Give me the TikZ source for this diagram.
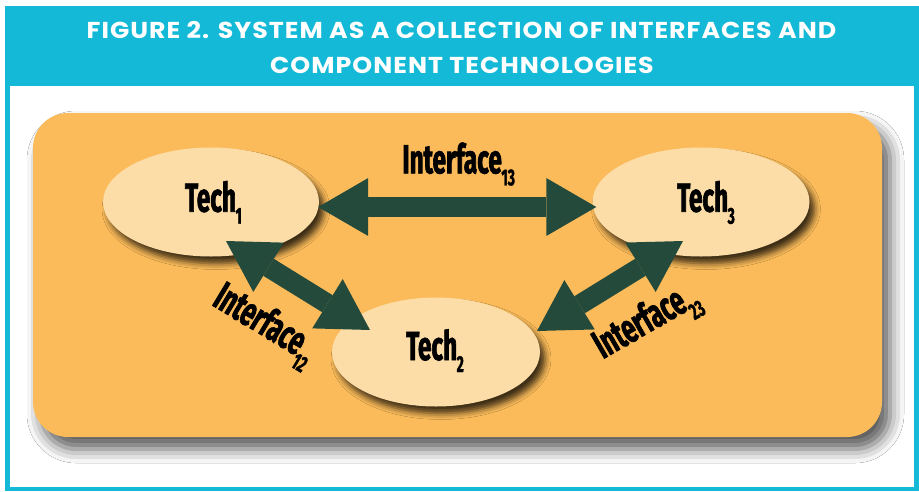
\documentclass[tikz,border=0pt]{standalone}
\usepackage{fontspec}
\setmainfont{Fira Sans}
\newfontfamily\titlefont{Poppins}[FakeStretch=1.1, LetterSpace=4.4]
\newfontfamily\condfont{Fira Sans}[FakeStretch=0.6, FakeBold=1.6]
\usetikzlibrary{shapes.geometric,shadows.blur,arrows.meta,calc}
\definecolor{cyanhdr}{RGB}{19,185,214}
\definecolor{orangebg}{RGB}{251,187,90}
\definecolor{ellfill}{RGB}{252,221,168}
\definecolor{arrowgreen}{RGB}{36,74,60}
\newcommand{\lbl}[2]{{\condfont\bfseries\fontsize{40.6}{44}\selectfont #1\hspace{-0.5pt}\raisebox{-12pt}{\fontsize{23}{24}\selectfont #2}}}
\tikzset{
  techell/.style={ellipse, fill=ellfill, inner sep=0pt,
    blur shadow={shadow xshift=5pt, shadow yshift=-7pt, shadow blur radius=6pt, shadow opacity=75}},
  lbltext/.style={anchor=base, inner sep=0pt, text=black},
  bigarrow/.style={arrowgreen, line width=20pt,
    {Triangle[length=50pt,width=58pt,line width=0pt]}-{Triangle[length=50pt,width=58pt,line width=0pt]}},
  titletext/.style={anchor=base, inner sep=0pt, text=white, font=\titlefont\bfseries\fontsize{23}{26}\selectfont}
}
\begin{document}
\begin{tikzpicture}[x=1pt,y=-1pt]
\useasboundingbox (0,0) rectangle (919,491);
\fill[white] (0,0) rectangle (919,491);
% frame
\fill[cyanhdr] (5,6) rectangle (919,491);
\fill[white] (10,86) rectangle (914,487);
\node[titletext] (title1) at (461.5,38.7) {FIGURE 2. SYSTEM AS A COLLECTION OF INTERFACES AND};
\node[titletext] (title2) at (462,73.3) {COMPONENT TECHNOLOGIES};
% background panel
\path[fill=orangebg, rounded corners=35pt,
  blur shadow={shadow xshift=8pt, shadow yshift=-12pt, shadow blur radius=14pt, shadow opacity=65}]
  (33,113) rectangle (882,437);
% ellipses
\node[techell, minimum width=216pt, minimum height=109pt] (t1) at (211,202) {};
\node[techell, minimum width=217pt, minimum height=109pt] (t3) at (701,202) {};
\node[techell, minimum width=208pt, minimum height=109pt] (t2) at (436,352) {};
\node[lbltext] (l1) at (213.5,211.7) {\lbl{Tech}{1}};
\node[lbltext] (l3) at (706,211.7) {\lbl{Tech}{3}};
\node[lbltext] (l2) at (435,360) {\lbl{Tech}{2}};
% arrows
\draw[bigarrow] ($(t1.east)+(-1,5)$) -- ($(t3.west)+(4,5)$);
\draw[bigarrow] ($(t1.center)+(15,39)$) -- ($(t2.center)+(-66,-22)$);
\draw[bigarrow] ($(t3.center)+(-18,39)$) -- ($(t2.center)+(101,-21)$);
% interface labels
\node[lbltext] (i13) at (458.7,173.3) {\lbl{Interface}{13}};
\node[lbltext, rotate=-31] (i12) at (259.2,333.7) {\lbl{Interface}{12}};
\node[lbltext, rotate=30] (i23) at (652,331) {\lbl{Interface}{23}};
\end{tikzpicture}
\end{document}
